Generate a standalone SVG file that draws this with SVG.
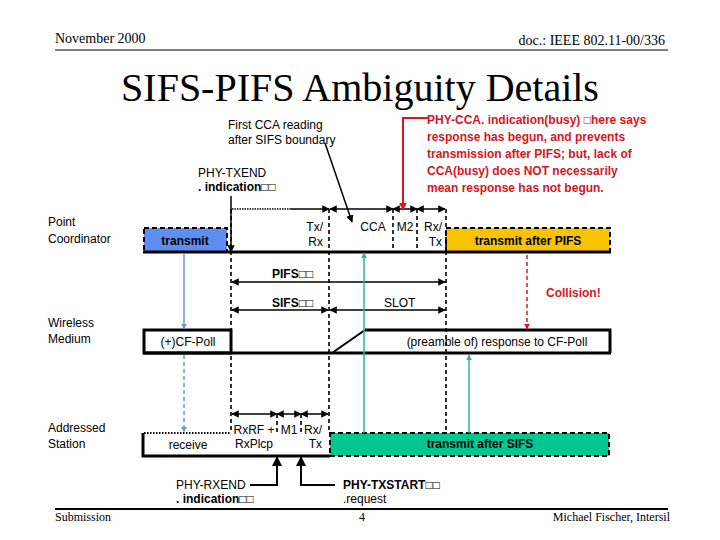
<svg xmlns="http://www.w3.org/2000/svg" width="720" height="540" viewBox="0 0 720 540">
<defs>
<marker id="ah" viewBox="0 0 10 10" refX="9" refY="5" markerWidth="5" markerHeight="5" orient="auto-start-reverse"><path d="M0,0L10,5L0,10z" fill="#000"/></marker>
<marker id="ar" viewBox="0 0 10 10" refX="9" refY="5" markerWidth="4" markerHeight="4" orient="auto"><path d="M0,0L10,5L0,10z" fill="#e0141e"/></marker>
<marker id="ab" viewBox="0 0 10 10" refX="9" refY="5" markerWidth="4" markerHeight="4" orient="auto"><path d="M0,0L10,5L0,10z" fill="#6b96d6"/></marker>
<marker id="ag" viewBox="0 0 10 10" refX="9" refY="5" markerWidth="4" markerHeight="4" orient="auto"><path d="M0,0L10,5L0,10z" fill="#2ab896"/></marker>
</defs>
<style>
text{font-family:"Liberation Sans",Arial,sans-serif;font-size:12px;fill:#000}
text.s{font-family:"Liberation Serif","Times New Roman",serif}
text.title{font-size:40px}
text.hd{font-size:14px}
.b{font-weight:bold}
.red{fill:#d8141e;font-weight:bold}
.dash{stroke:#000;stroke-width:1.6;stroke-dasharray:4,3;fill:none}
.arr{stroke:#000;stroke-width:1.5;marker-start:url(#ah);marker-end:url(#ah)}
.thick{stroke:#000;stroke-width:3;fill:none}
</style>
<rect width="720" height="540" fill="#fff"/>
<text class="s hd" x="55" y="43">November 2000</text>
<text class="s hd" x="665" y="45" text-anchor="end">doc.: IEEE 802.11-00/336</text>
<line x1="55" y1="50" x2="668" y2="50" stroke="#000"/>
<text class="s title" x="360" y="101" text-anchor="middle">SIFS-PIFS Ambiguity Details</text>
<line x1="55" y1="509" x2="668" y2="509" stroke="#000" stroke-width="2"/>
<text class="s" x="55" y="521">Submission</text>
<text class="s" x="362" y="521" text-anchor="middle">4</text>
<text class="s" x="670" y="521" text-anchor="end">Michael Fischer, Intersil</text>

<g id="labels">
<text x="48" y="226">Point</text><text x="48" y="243">Coordinator</text>
<text x="48" y="327">Wireless</text><text x="48" y="343">Medium</text>
<text x="48" y="432">Addressed</text><text x="48" y="448">Station</text>
</g>

<g id="pc">
<rect x="144" y="228" width="83" height="24" fill="#5f8ef2" stroke="#000" stroke-width="2" stroke-dasharray="5,3"/>
<text class="b" x="185" y="245" text-anchor="middle">transmit</text>
<rect x="446" y="228" width="164" height="24" fill="#f8c400" stroke="#000" stroke-width="2" stroke-dasharray="5,3"/>
<text class="b" x="528" y="245" text-anchor="middle">transmit after PIFS</text>
<line x1="143" y1="252" x2="611" y2="252" stroke="#000" stroke-width="3"/>
<text x="323" y="231" text-anchor="end">Tx/</text><text x="323" y="246" text-anchor="end">Rx</text>
<text x="373" y="231" text-anchor="middle">CCA</text>
<text x="405" y="231" text-anchor="middle">M2</text>
<text x="442" y="231" text-anchor="end">Rx/</text><text x="442" y="246" text-anchor="end">Tx</text>
</g>

<g id="wm">
<rect x="144" y="330" width="87" height="23" fill="#fff" stroke="#000" stroke-width="3"/>
<text x="188" y="346" text-anchor="middle">(+)CF-Poll</text>
<path d="M365,330H610V353" class="thick"/>
<line x1="143" y1="353" x2="611" y2="353" stroke="#000" stroke-width="3"/>
<line x1="332" y1="353" x2="365" y2="330" stroke="#000" stroke-width="2"/>
<text x="497" y="346" text-anchor="middle">(preamble of) response to CF-Poll</text>
</g>

<g id="as">
<path d="M144,433H231" stroke="#000" stroke-width="2" stroke-dasharray="1.5,1.5"/>
<path d="M143,433V456H330" class="thick"/>
<rect x="330" y="433" width="279" height="23" fill="#00c890" stroke="#000" stroke-width="2" stroke-dasharray="5,3"/>
<text x="188" y="449" text-anchor="middle">receive</text>
<text x="254" y="434" text-anchor="middle">RxRF +</text><text x="254" y="448" text-anchor="middle">RxPlcp</text>
<text x="289" y="434" text-anchor="middle">M1</text>
<text x="322" y="434" text-anchor="end">Rx/</text><text x="322" y="448" text-anchor="end">Tx</text>
<text class="b" x="480" y="448" text-anchor="middle">transmit after SIFS</text>
</g>

<g id="connectors">
<line x1="231" y1="209" x2="231" y2="433" class="dash"/>
<line x1="329" y1="209" x2="329" y2="433" class="dash"/>
<line x1="446" y1="209" x2="446" y2="433" class="dash"/>
<line x1="393" y1="209" x2="393" y2="252" class="dash"/>
<line x1="417" y1="209" x2="417" y2="252" class="dash"/>
<line x1="277" y1="414" x2="277" y2="433" class="dash"/>
<line x1="301" y1="414" x2="301" y2="433" class="dash"/>
<line x1="232" y1="209" x2="290" y2="209" stroke="#000" stroke-width="1.5" stroke-dasharray="1.5,1"/>
<line x1="290" y1="209" x2="329" y2="209" stroke="#000" stroke-width="1.5" marker-end="url(#ah)"/>
<line x1="330" y1="209" x2="393" y2="209" class="arr"/>
<line x1="393" y1="209" x2="417" y2="209" class="arr"/>
<line x1="417" y1="209" x2="445" y2="209" class="arr"/>
<line x1="232" y1="282" x2="445" y2="282" class="arr"/>
<line x1="232" y1="310" x2="328" y2="310" class="arr"/>
<line x1="330" y1="310" x2="445" y2="310" class="arr"/>
<line x1="232" y1="414" x2="277" y2="414" class="arr"/>
<line x1="277" y1="414" x2="301" y2="414" class="arr"/>
<line x1="301" y1="414" x2="328" y2="414" class="arr"/>
<line x1="231" y1="196" x2="231" y2="252" stroke="#000" stroke-width="1.5" marker-end="url(#ah)"/>
<line x1="325" y1="143" x2="352" y2="222" stroke="#000" stroke-width="1.5" marker-end="url(#ah)"/>
<path d="M428,118H403V210" fill="none" stroke="#e0141e" stroke-width="2" marker-end="url(#ar)"/>
<line x1="527" y1="255" x2="527" y2="329" stroke="#e0141e" stroke-width="1.5" stroke-dasharray="4,3" marker-end="url(#ar)"/>
<line x1="184" y1="253" x2="184" y2="329" stroke="#6b96d6" stroke-width="1.5" marker-end="url(#ab)"/>
<line x1="184" y1="355" x2="184" y2="432" stroke="#6b96d6" stroke-width="1.5" stroke-dasharray="4,3" marker-end="url(#ab)"/>
<line x1="364" y1="433" x2="364" y2="253" stroke="#2ab896" stroke-width="1.5" marker-end="url(#ag)"/>
<line x1="469" y1="433" x2="469" y2="355" stroke="#2ab896" stroke-width="1.5" marker-end="url(#ag)"/>
<path d="M250,485H277V457" fill="none" stroke="#000" stroke-width="2" marker-end="url(#ah)"/>
<path d="M335,485H301V457" fill="none" stroke="#000" stroke-width="2" marker-end="url(#ah)"/>
</g>

<g id="notes">
<text x="228" y="129">First CCA reading</text>
<text x="228" y="144">after SIFS boundary</text>
<text x="198" y="177">PHY-TXEND</text>
<text class="b" x="198" y="191">. indication□□</text>
<text class="red" x="427" y="124">PHY-CCA. indication(busy) □here says</text>
<text class="red" x="427" y="141">response has begun, and prevents</text>
<text class="red" x="427" y="158">transmission after PIFS; but, lack of</text>
<text class="red" x="427" y="175">CCA(busy) does NOT necessarily</text>
<text class="red" x="427" y="192">mean response has not begun.</text>
<text class="b" x="272" y="278">PIFS□□</text>
<text class="b" x="272" y="307">SIFS□□</text>
<text x="384" y="307">SLOT</text>
<text class="red" x="546" y="297">Collision!</text>
<text x="176" y="489">PHY-RXEND</text>
<text class="b" x="176" y="503">. indication□□</text>
<text class="b" x="343" y="489">PHY-TXSTART□□</text>
<text x="343" y="503">.request</text>
</g>
</svg>
